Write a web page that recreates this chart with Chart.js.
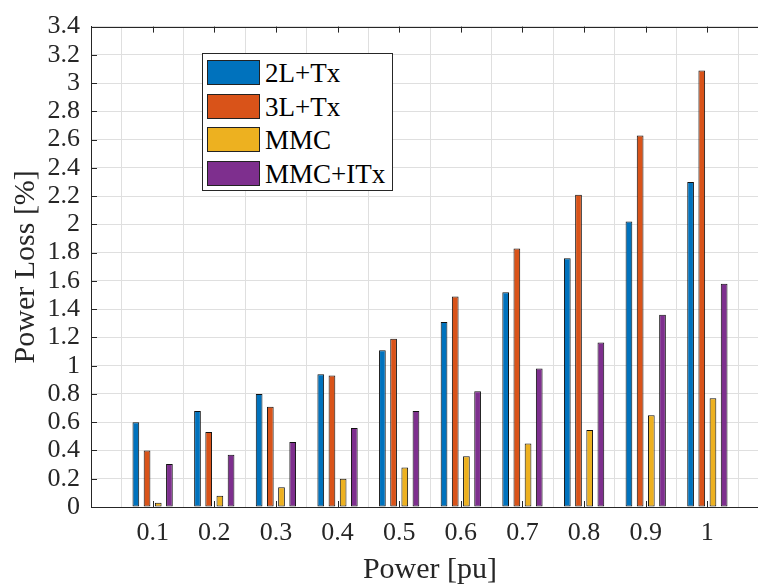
<!DOCTYPE html>
<html lang="en">
<head>
    <meta charset="UTF-8">
    <title>Power Loss</title>
    <style>
        html, body { margin: 0; padding: 0; overflow: hidden; background: #fff; }
        #wrap { position: relative; width: 758px; height: 586px; overflow: hidden; }
        #legend {
            position: absolute; left: 202px; top: 53px; width: 189px; height: 136px;
            border: 1px solid #262626; background: #fff;
            font-family: "Liberation Serif", "Times New Roman", serif; font-size: 27px; color: #000;
        }
        .item { position: absolute; left: 4px; height: 25px; line-height: 25px; white-space: nowrap; }
        .sw { display: inline-block; width: 51px; height: 23px; border: 1px solid #222; vertical-align: top; }
        .lbl { position: absolute; left: 58px; top: 1px; }
    </style>
</head>
<body>
<div id="wrap">
    <canvas id="lossChart" width="780" height="586"></canvas>
    <div id="legend"></div>
</div>

<script src="https://cdn.jsdelivr.net/npm/chart.js"></script>
<script>
    // power levels (pu) and losses (%)
    var powerPu = [0.1, 0.2, 0.3, 0.4, 0.5, 0.6, 0.7, 0.8, 0.9, 1.0];
    var loss2L = [0.60, 0.68, 0.80, 0.94, 1.11, 1.31, 1.52, 1.76, 2.02, 2.30];
    var loss3L = [0.40, 0.53, 0.71, 0.93, 1.19, 1.49, 1.83, 2.21, 2.63, 3.09];
    var lossMMC = [0.03, 0.08, 0.14, 0.20, 0.28, 0.36, 0.45, 0.545, 0.65, 0.77];
    var lossMMCITx = [0.305, 0.37, 0.46, 0.56, 0.68, 0.82, 0.98, 1.165, 1.36, 1.58];

    var seriesNames = ['2L+Tx', '3L+Tx', 'MMC', 'MMC+ITx'];
    var seriesColors = ['#0072BD', '#D95319', '#EDB120', '#7E2F8E'];
    var seriesData = [loss2L, loss3L, lossMMC, lossMMCITx];

    var axisColor = '#262626';
    var gridColor = '#dfdfdf';
    var font = '"Liberation Serif", "Times New Roman", serif';

    function toPoints(values) {
        return values.map(function(v, i) { return { x: powerPu[i], y: v }; });
    }

    function fmt(v) {
        return String(Number(v.toFixed(2)));
    }

    var datasets = seriesNames.map(function(name, i) {
        return {
            label: name,
            data: toPoints(seriesData[i]),
            backgroundColor: seriesColors[i],
            borderColor: '#111',
            borderWidth: 1,
            borderSkipped: false,
            categoryPercentage: 0.726,
            barPercentage: 0.6
        };
    });

    // box around the axes + inward tick marks like MATLAB
    var boxPlugin = {
        id: 'box',
        afterDraw: function(chart) {
            var ctx = chart.ctx;
            var a = chart.chartArea;
            var xs = chart.scales.x, ys = chart.scales.y;
            ctx.save();
            ctx.strokeStyle = axisColor;
            ctx.lineWidth = 1;
            ctx.strokeRect(Math.round(a.left) + 0.5, Math.round(a.top) + 0.5,
                Math.round(a.right - a.left), Math.round(a.bottom - a.top));
            ctx.beginPath();
            xs.ticks.forEach(function(t) {
                var px = Math.round(xs.getPixelForValue(t.value)) + 0.5;
                ctx.moveTo(px, a.bottom); ctx.lineTo(px, a.bottom - 6);
                ctx.moveTo(px, a.top); ctx.lineTo(px, a.top + 6);
            });
            ys.ticks.forEach(function(t) {
                var py = Math.round(ys.getPixelForValue(t.value)) + 0.5;
                ctx.moveTo(a.left, py); ctx.lineTo(a.left + 6, py);
            });
            ctx.stroke();
            ctx.restore();
        }
    };

    var ctx = document.getElementById('lossChart').getContext('2d');
    var lossChart = new Chart(ctx, {
        type: 'bar',
        data: { datasets: datasets },
        options: {
            responsive: false,
            animation: false,
            layout: { padding: { left: 0, right: 11, top: 20, bottom: 0 } },
            plugins: {
                legend: { display: false },
                tooltip: { enabled: false }
            },
            scales: {
                x: {
                    type: 'linear',
                    offset: false,
                    min: 0,
                    max: 1.1,
                    afterFit: function(s) { s.height = 79; },
                    ticks: {
                        stepSize: 0.1,
                        padding: 11,
                        color: axisColor,
                        font: { family: font, size: 26 },
                        maxRotation: 0,
                        autoSkip: false,
                        callback: function(v) {
                            if (v < 0.05 || v > 1.05) return '';
                            return fmt(v);
                        }
                    },
                    grid: { color: gridColor, drawTicks: false },
                    border: { color: axisColor, width: 1 },
                    title: {
                        display: true,
                        text: 'Power [pu]',
                        color: axisColor,
                        font: { family: font, size: 30, lineHeight: 1 },
                        padding: { top: 0, bottom: 1 }
                    }
                },
                y: {
                    min: 0,
                    max: 3.4,
                    afterFit: function(s) { s.width = 91; },
                    ticks: {
                        stepSize: 0.2,
                        padding: 11,
                        color: axisColor,
                        font: { family: font, size: 26 },
                        autoSkip: false,
                        callback: function(v) { return fmt(v); }
                    },
                    grid: { color: gridColor, drawTicks: false },
                    border: { color: axisColor, width: 1 },
                    title: {
                        display: true,
                        text: 'Power Loss [%]',
                        color: axisColor,
                        font: { family: font, size: 30, lineHeight: 1 },
                        padding: { top: 11, bottom: 0 }
                    }
                }
            }
        },
        plugins: [boxPlugin]
    });

    // legend inside the axes
    var legend = document.getElementById('legend');
    seriesNames.forEach(function(name, i) {
        var item = document.createElement('div');
        item.className = 'item';
        item.style.top = (6 + i * 33.5) + 'px';
        var sw = document.createElement('span');
        sw.className = 'sw';
        sw.style.background = seriesColors[i];
        var lbl = document.createElement('span');
        lbl.className = 'lbl';
        lbl.textContent = name;
        item.appendChild(sw);
        item.appendChild(lbl);
        legend.appendChild(item);
    });
</script>
</body>
</html>
